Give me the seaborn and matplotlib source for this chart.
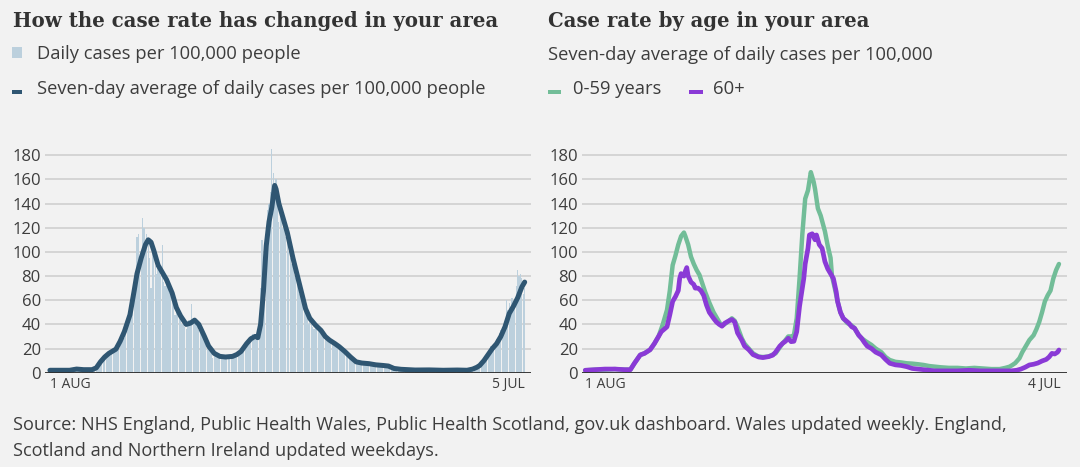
import numpy as np
import pandas as pd
import matplotlib
matplotlib.use("Agg")
import matplotlib.pyplot as plt
from matplotlib.patches import Rectangle
import seaborn as sns

# ---------------- data ----------------
start_date = "2020-08-01"

# Daily cases per 100,000 people, one value per day from 1 Aug 2020 to 5 Jul 2021
daily_cases = [
    2, 1, 2, 3, 2, 2, 1,
    2, 2, 1, 3, 2, 2, 2,
    2, 3, 3, 2, 4, 3, 3,
    3, 2, 3, 2, 3, 2, 2,
    3, 2, 3, 2, 4, 5, 6,
    8, 10, 9, 14, 12, 15, 14,
    17, 15, 18, 20, 19, 22, 18,
    24, 27, 30, 33, 29, 36, 40,
    44, 50, 55, 62, 70, 82, 112,
    115, 90, 98, 128, 120, 102, 115,
    110, 95, 70, 100, 96, 88, 82,
    90, 86, 80, 106, 75, 72, 78,
    70, 66, 72, 60, 58, 48, 55,
    50, 45, 48, 40, 42, 38, 36,
    40, 44, 42, 57, 45, 40, 42,
    38, 35, 40, 32, 30, 28, 26,
    24, 20, 18, 16, 12, 15, 14,
    13, 12, 14, 13, 11, 14, 13,
    12, 14, 13, 15, 12, 14, 16,
    15, 17, 16, 18, 22, 20, 24,
    26, 25, 28, 30, 32, 28, 27,
    30, 33, 48, 70, 110, 85, 100,
    120, 135, 140, 150, 185, 165, 150,
    160, 140, 125, 130, 138, 120, 118,
    112, 115, 100, 95, 90, 98, 80,
    78, 85, 70, 65, 72, 58, 55,
    52, 48, 40, 44, 42, 38, 36,
    40, 38, 35, 36, 32, 34, 30,
    30, 28, 27, 29, 25, 26, 24,
    24, 22, 23, 20, 21, 19, 18,
    17, 16, 14, 12, 13, 11, 10,
    9, 9, 8, 8, 9, 7, 8,
    8, 7, 8, 6, 7, 7, 6,
    6, 7, 6, 5, 6, 7, 6,
    5, 6, 5, 6, 4, 4, 3,
    3, 4, 3, 3, 2, 3, 2,
    3, 2, 2, 3, 2, 2, 3,
    2, 2, 3, 2, 2, 2, 3,
    2, 3, 2, 2, 3, 2, 2,
    2, 2, 3, 2, 2, 2, 2,
    2, 2, 3, 2, 2, 2, 1,
    2, 2, 2, 3, 2, 2, 2,
    2, 2, 1, 2, 3, 2, 3,
    3, 4, 4, 5, 6, 8, 7,
    10, 9, 14, 13, 17, 16, 22,
    21, 24, 22, 28, 27, 33, 35,
    38, 40, 36, 60, 52, 58, 48,
    62, 55, 60, 72, 85, 80, 82,
    78, 65, 70,
]

# Seven-day average (left), days since 1 Aug 2020
avg_days = [0, 7, 14, 19, 24, 30, 33, 36, 39, 42,
            47, 50, 53, 57, 60, 62, 65, 68, 70, 72,
            74, 77, 80, 83, 87, 90, 93, 97, 100, 103,
            106, 110, 113, 117, 121, 125, 130, 133, 136, 140,
            143, 146, 148, 150, 152, 154, 156, 158, 160, 161,
            163, 166, 169, 173, 176, 179, 182, 185, 189, 193,
            196, 199, 203, 206, 210, 214, 218, 222, 227, 232,
            237, 241, 245, 250, 260, 270, 280, 290, 297, 301,
            304, 306, 309, 312, 315, 318, 321, 324, 327, 330,
            333, 336, 338]
avg_values = [2, 2, 2, 3, 2.5, 2.5, 4, 9, 13, 16,
              19.5, 26, 34, 48, 68, 82, 95, 106, 110, 108,
              101, 89, 83, 77, 66, 54, 47, 40, 41, 43.5,
              40, 30, 22, 16, 13.5, 13, 13.5, 15, 17.5, 24,
              28, 30, 29, 40, 67, 105, 125, 137, 155, 152,
              140, 128, 116, 95, 81, 67, 53, 45, 39.5, 35,
              30, 27, 24, 21.5, 17.5, 13, 9, 8, 7.5, 6.5,
              6, 5.5, 3.5, 2.8, 2.2, 2.3, 2, 2.2, 2, 3,
              4.5, 6, 10, 15, 20, 24, 30, 38, 49, 55,
              62, 71, 75]

# Right panel: seven-day average by age, days since 1 Aug 2020
young_days = [0, 7, 14, 21, 28, 32, 35, 39, 42, 46,
              49, 52, 55, 58, 60, 62, 64, 66, 68, 70,
              71, 73, 75, 77, 79, 81, 83, 85, 88, 91,
              94, 96, 98, 101, 104, 106, 108, 111, 113, 116,
              119, 123, 126, 130, 133, 135, 138, 140, 142, 144,
              146, 148, 150, 152, 154, 156, 158, 160, 162, 163,
              165, 167, 170, 172, 174, 175, 177, 179, 181, 183,
              186, 189, 191, 194, 196, 199, 203, 206, 210, 213,
              216, 220, 224, 228, 232, 236, 240, 244, 248, 252,
              258, 264, 270, 276, 282, 288, 294, 298, 301, 303,
              305, 308, 310, 313, 315, 318, 320, 322, 324, 326,
              328, 330, 332, 334, 336]
young_values = [2, 2.5, 2.5, 3, 2.5, 2.5, 8, 14.7, 16, 19,
                24, 30, 40, 52, 68, 89, 97, 106, 113, 116,
                113, 106, 96, 90, 85, 81, 74, 67, 58, 50,
                44, 40, 39.5, 42, 45, 43, 38, 28.5, 24, 20,
                16, 13.3, 13, 13.3, 15, 16, 21, 24.3, 27, 30,
                30, 31, 45, 78, 115, 144, 151, 166, 158, 152,
                136, 130, 117, 105, 95, 80, 70, 59, 50, 45,
                41, 39, 37, 31, 28.5, 26, 23, 20, 17, 13,
                10.5, 9, 8.5, 7.8, 7.5, 7, 6.4, 5.5, 5, 4.5,
                4, 4, 3.5, 4, 3.5, 3, 3, 4, 5, 6.4,
                8, 12, 17, 23, 27, 31, 36, 42, 50, 59,
                64, 68, 78, 85, 90]

old_days = [0, 7, 14, 21, 28, 32, 35, 39, 42, 46,
            49, 52, 54, 56, 58, 60, 62, 64, 66, 67,
            68, 70, 71, 72, 73, 75, 77, 78, 80, 82,
            84, 86, 88, 91, 93, 95, 97, 99, 102, 104,
            106, 108, 111, 113, 116, 119, 123, 126, 130, 133,
            135, 138, 140, 142, 144, 146, 148, 150, 152, 155,
            156, 158, 159, 161, 163, 164, 166, 168, 170, 172,
            174, 176, 178, 179, 181, 183, 185, 187, 189, 191,
            194, 196, 198, 200, 203, 206, 210, 213, 216, 220,
            224, 228, 232, 236, 240, 248, 256, 264, 272, 280,
            288, 296, 302, 306, 309, 312, 315, 318, 321, 324,
            327, 329, 331, 333, 335, 336]
old_values = [2, 2.5, 3, 3, 2.5, 2.5, 8, 14.7, 16, 19,
              24, 30, 34, 36, 38, 48, 59, 63, 68, 78,
              82, 80, 84, 87, 80, 75, 73, 70, 70, 68,
              64, 56, 50, 45, 42, 40, 38.5, 41, 43, 44,
              42, 33, 27, 22, 19, 15, 13, 12.5, 13.3, 14.5,
              17, 22, 24.3, 26, 28.5, 25.7, 26, 34, 55, 78,
              90, 103, 114, 115, 110, 114, 106, 103, 92, 86,
              82, 78, 67, 58.8, 50, 45, 43, 41, 38, 36.8,
              31, 28.5, 25, 22, 20, 17, 14.7, 11, 7.8, 6.5,
              6, 5, 3.5, 3, 2.5, 1.5, 1.5, 1.5, 2, 1.5,
              1.5, 1.5, 1.5, 2, 3, 4.5, 6.4, 7, 8, 9.7,
              11, 13, 16, 15.5, 17, 18.8]

y_ticks = [0, 20, 40, 60, 80, 100, 120, 140, 160, 180]
left_end_date = "2021-07-05"
right_end_date = "2021-07-04"
left_xlabels = ["1 AUG", "5 JUL"]
right_xlabels = ["1 AUG", "4 JUL"]

left_title = "How the case rate has changed in your area"
right_title = "Case rate by age in your area"
left_legend = ["Daily cases per 100,000 people",
               "Seven-day average of daily cases per 100,000 people"]
right_subtitle = "Seven-day average of daily cases per 100,000"
right_legend = ["0-59 years", "60+"]
source_lines = ["Source: NHS England, Public Health Wales, Public Health Scotland, gov.uk dashboard. Wales updated weekly. England,",
                "Scotland and Northern Ireland updated weekdays."]

# ---------------- style ----------------
BG = "#f2f2f2"
BAR = "#bcd0dd"
AVG = "#2f5672"
GREEN = "#72bd98"
PURPLE = "#8a3ad6"
GRID = "#cdcdcd"
TXT = "#3d3d3d"
SANS = ["Open Sans", "DejaVu Sans"]
SERIF = ["DejaVu Serif"]

sns.set_theme(style="white")
plt.rcParams["font.family"] = SANS

W, H = 1080, 467
fig = plt.figure(figsize=(W / 100, H / 100), dpi=100, facecolor=BG)

t0 = pd.Timestamp(start_date)
def to_dates(days):
    return t0 + pd.to_timedelta(np.asarray(days, dtype=float), unit="D")

bar_dates = pd.date_range(start_date, left_end_date, freq="D")
assert len(bar_dates) == len(daily_cases)

def px_axes(x0, x1, ybot, ytop):
    return fig.add_axes([x0 / W, 1 - ybot / H, (x1 - x0) / W, (ybot - ytop) / H])

YMAX = 190
ybase = 372.7
ytop = ybase - YMAX * 1.208
ax1 = px_axes(45, 531, ybase, ytop)
ax2 = px_axes(582, 1067, ybase, ytop)

# Left panel
ax1.bar(bar_dates, daily_cases, width=0.85, color=BAR, zorder=1, linewidth=0)
sns.lineplot(x=to_dates(avg_days), y=avg_values, ax=ax1, color=AVG, lw=3.6,
             estimator=None, legend=False, zorder=3,
             solid_capstyle="round", solid_joinstyle="round")
ax1.set_xlim(t0 - pd.Timedelta(days=3.5), pd.Timestamp(left_end_date) + pd.Timedelta(days=4.5))
ax1.set_xticks([t0, pd.Timestamp(left_end_date)])
ax1.set_xticklabels(left_xlabels)

# Right panel
sns.lineplot(x=to_dates(young_days), y=young_values, ax=ax2, color=GREEN, lw=3.2,
             estimator=None, legend=False, zorder=3,
             solid_capstyle="round", solid_joinstyle="round")
sns.lineplot(x=to_dates(old_days), y=old_values, ax=ax2, color=PURPLE, lw=3.4,
             estimator=None, legend=False, zorder=4,
             solid_capstyle="round", solid_joinstyle="round")
ax2.set_xlim(t0 - pd.Timedelta(days=2.3), pd.Timestamp(right_end_date) + pd.Timedelta(days=4.7))
ax2.set_xticks([t0, pd.Timestamp(right_end_date)])
ax2.set_xticklabels(right_xlabels)

for ax in (ax1, ax2):
    ax.set_facecolor(BG)
    for s in ax.spines.values():
        s.set_visible(False)
    ax.set_ylim(0, YMAX)
    ax.set_yticks(y_ticks)
    for yv in y_ticks[1:]:
        ax.axhline(yv, color=GRID, lw=1.1, zorder=0)
    ax.axhline(0, color="#2b2b2b", lw=1.3, zorder=5)
    ax.tick_params(axis="y", length=0, pad=3, labelsize=12, labelcolor=TXT)
    ax.tick_params(axis="x", length=0, pad=3, labelsize=10, labelcolor=TXT)
    ax.set_xlabel("")
    ax.set_ylabel("")
    labs = ax.get_xticklabels()
    labs[0].set_horizontalalignment("left")
    labs[-1].set_horizontalalignment("right")
    for lab in ax.get_yticklabels():
        lab.set_family(SANS)
    for lab in labs:
        lab.set_family(SANS)

# ---------------- texts ----------------
renderer = fig.canvas.get_renderer()

def ftext(x, y, s, target_w, size=12, **kw):
    t = fig.text(x / W, 1 - y / H, s, va="center", ha="left", fontsize=size, **kw)
    w = t.get_window_extent(renderer).width
    t.set_fontsize(size * target_w / w)
    return t

ftext(13, 21, left_title, 484, size=16, family=SERIF, weight="bold", color="#333333")
ftext(548, 21, right_title, 321, size=16, family=SERIF, weight="bold", color="#333333")

ftext(37, 54, left_legend[0], 263, family=SANS, color=TXT)
ftext(37, 89, left_legend[1], 446, family=SANS, color=TXT)
ftext(548, 55, right_subtitle, 383, family=SANS, color=TXT)
ftext(573, 89, right_legend[0], 88, family=SANS, color=TXT)
ftext(713, 89, right_legend[1], 32, family=SANS, color=TXT)

ftext(13, 425, source_lines[0], 992, family=SANS, color=TXT)
ftext(13, 451, source_lines[1], 423, family=SANS, color=TXT)

def fig_rect(x0, y0, x1, y1, color):
    fig.patches.append(Rectangle((x0 / W, 1 - y1 / H), (x1 - x0) / W, (y1 - y0) / H,
                                 transform=fig.transFigure, color=color, lw=0))

fig_rect(12, 47, 22, 58, BAR)
fig_rect(12, 90, 22, 94, AVG)
fig_rect(548, 90, 561, 94, GREEN)
fig_rect(689, 90, 703, 94, PURPLE)

fig.savefig("out.png", dpi=100, facecolor=BG)
